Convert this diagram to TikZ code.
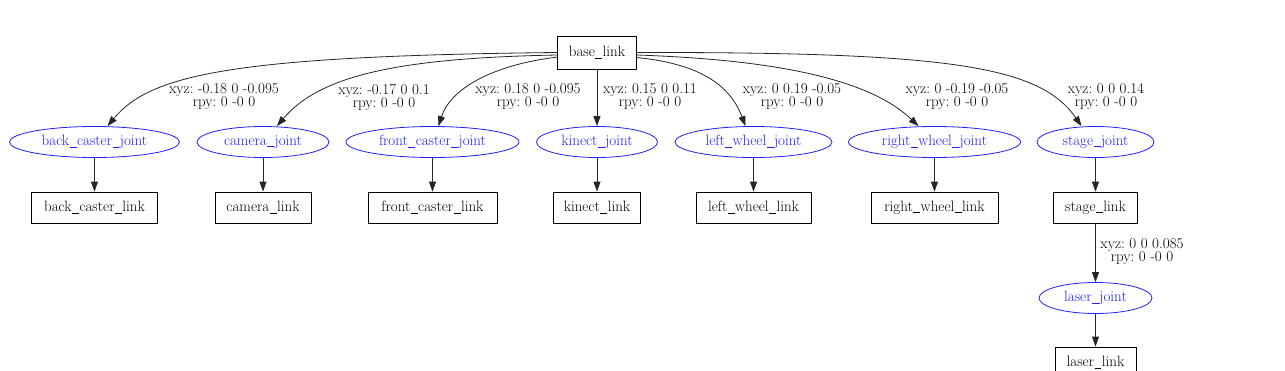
\documentclass[tikz,border=0pt]{standalone}
\usepackage{fontspec}
\usetikzlibrary{arrows.meta,shapes.geometric,calc}
\definecolor{jblue}{RGB}{30,30,255}
\newcommand{\lbl}{\fontsize{15}{13}\selectfont\frenchspacing}
\newcommand{\us}{\kern0.03em\rule[-0.13em]{0.46em}{0.055em}\kern0.03em}
\begin{document}
\begin{tikzpicture}[x=1pt,y=-1pt,
  link/.style={draw, rectangle, minimum height=31pt, inner sep=0pt, font=\lbl, line width=0.8pt},
  joint/.style={draw=jblue, ellipse, minimum height=31pt, inner sep=0pt, text=jblue, font=\lbl, line width=0.8pt},
  elab/.style={align=center, font=\lbl, inner sep=0pt},
  conn/.style={draw=black!85, line width=0.8pt, -{Triangle[length=10pt,width=7pt]}}]
\useasboundingbox (0,0) rectangle (1285,370);
% root
\node[link, minimum width=79pt, minimum height=33pt] (base) at (597,52.5) {\makebox[0pt]{base\us link}};
% joints
\node[joint, minimum width=170pt] (bcj) at (94.5,142) {\makebox[0pt]{back\us caster\us joint}};
\node[joint, minimum width=132pt] (cj) at (263,142) {\makebox[0pt]{camera\us joint}};
\node[joint, minimum width=173pt] (fcj) at (432.5,142) {\makebox[0pt]{front\us caster\us joint}};
\node[joint, minimum width=121pt] (kj) at (597,142) {\makebox[0pt]{kinect\us joint}};
\node[joint, minimum width=157pt] (lwj) at (753.5,142) {\makebox[0pt]{left\us wheel\us joint}};
\node[joint, minimum width=172pt] (rwj) at (934.5,142) {\makebox[0pt]{right\us wheel\us joint}};
\node[joint, minimum width=117pt] (sj) at (1095.5,142) {\makebox[0pt]{stage\us joint}};
\node[joint, minimum width=113pt] (lj) at (1095.5,298) {\makebox[0pt]{laser\us joint}};
% links
\node[link, minimum width=126pt] (bcl) at (94.5,207.5) {\makebox[0pt]{back\us caster\us link}};
\node[link, minimum width=96pt] (cl) at (263,207.5) {\makebox[0pt]{camera\us link}};
\node[link, minimum width=129pt] (fcl) at (432.5,207.5) {\makebox[0pt]{front\us caster\us link}};
\node[link, minimum width=87pt] (kl) at (597,207.5) {\makebox[0pt]{kinect\us link}};
\node[link, minimum width=115pt] (lwl) at (753.5,207.5) {\makebox[0pt]{left\us wheel\us link}};
\node[link, minimum width=127pt] (rwl) at (934.5,207.5) {\makebox[0pt]{right\us wheel\us link}};
\node[link, minimum width=84pt] (sl) at (1095.5,207.5) {\makebox[0pt]{stage\us link}};
\node[link, minimum width=81pt] (ll) at (1095.5,362.5) {\makebox[0pt]{laser\us link}};
% edges from base
\draw[conn] (base.west) .. controls (230,56) and (150,75) .. ($(bcj.north)+(13,0)$);
\draw[conn] ($(base.west)+(0,2.5)$) .. controls (400,58) and (320,75) .. ($(cj.north)+(14,0)$);
\draw[conn] ($(base.west)+(1,4.5)$) .. controls (490,65) and (450,90) .. ($(fcj.north)+(6,0)$);
\draw[conn] (base.south) -- (kj.north);
\draw[conn] ($(base.east)+(0,5)$) .. controls (700,64) and (730,85) .. ($(lwj.north)+(-8,0)$);
\draw[conn] ($(base.east)+(0,2.5)$) .. controls (780,60) and (870,80) .. ($(rwj.north)+(-16,0)$);
\draw[conn] (base.east) .. controls (950,52) and (1040,66) .. ($(sj.north)+(-14,0)$);
% joint to link
\draw[conn] (bcj.south) -- (bcl.north);
\draw[conn] (cj.south) -- (cl.north);
\draw[conn] (fcj.south) -- (fcl.north);
\draw[conn] (kj.south) -- (kl.north);
\draw[conn] (lwj.south) -- (lwl.north);
\draw[conn] (rwj.south) -- (rwl.north);
\draw[conn] (sj.south) -- (sl.north);
\draw[conn] (sl.south) -- (lj.north);
\draw[conn] (lj.south) -- (ll.north);
% edge labels
\node[elab] (l1) at (224,97) {xyz: -0.18 0 -0.095\\rpy: 0 -0 0};
\node[elab] (l2) at (384,97) {xyz: -0.17 0 0.1\\rpy: 0 -0 0};
\node[elab] (l3) at (528,97) {xyz: 0.18 0 -0.095\\rpy: 0 -0 0};
\node[elab] (l4) at (650,97) {xyz: 0.15 0 0.11\\rpy: 0 -0 0};
\node[elab] (l5) at (792,97) {xyz: 0 0.19 -0.05\\rpy: 0 -0 0};
\node[elab] (l6) at (957,97) {xyz: 0 -0.19 -0.05\\rpy: 0 -0 0};
\node[elab] (l7) at (1106,97) {xyz: 0 0 0.14\\rpy: 0 -0 0};
\node[elab] (l8) at (1142,252) {xyz: 0 0 0.085\\rpy: 0 -0 0};
\end{tikzpicture}
\end{document}
